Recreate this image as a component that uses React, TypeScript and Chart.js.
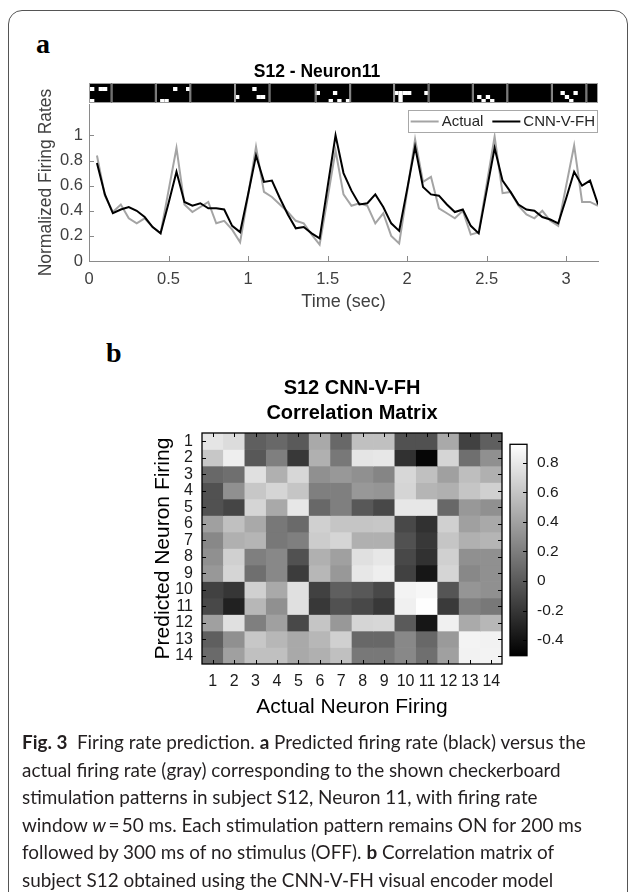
import React, { useEffect, useRef } from 'react';
import { Chart, registerables } from 'chart.js';

Chart.register(...registerables);

const SANS = "'Liberation Sans', Arial, Helvetica, sans-serif";

// ---------- Panel a : firing rates ----------
const TIME = [0.05, 0.1, 0.15, 0.2, 0.25, 0.3, 0.35, 0.4, 0.45, 0.5, 0.55, 0.6, 0.65, 0.7, 0.75, 0.8, 0.85, 0.9, 0.95, 1.0,
  1.05, 1.1, 1.15, 1.2, 1.25, 1.3, 1.35, 1.4, 1.45, 1.5, 1.55, 1.6, 1.65, 1.7, 1.75, 1.8, 1.85, 1.9, 1.95, 2.0,
  2.05, 2.1, 2.15, 2.2, 2.25, 2.3, 2.35, 2.4, 2.45, 2.5, 2.55, 2.6, 2.65, 2.7, 2.75, 2.8, 2.85, 2.9, 2.95, 3.0,
  3.05, 3.1, 3.15, 3.2];

const ACTUAL = [0.84, 0.52, 0.39, 0.45, 0.34, 0.30, 0.34, 0.27, 0.22, 0.56,
  0.90, 0.45, 0.39, 0.43, 0.47, 0.30, 0.32, 0.25, 0.15, 0.52,
  0.91, 0.55, 0.51, 0.45, 0.39, 0.32, 0.30, 0.21, 0.13, 0.50,
  0.88, 0.53, 0.44, 0.46, 0.44, 0.30, 0.38, 0.20, 0.14, 0.55,
  0.97, 0.63, 0.67, 0.42, 0.38, 0.34, 0.40, 0.21, 0.23, 0.61,
  0.99, 0.54, 0.55, 0.44, 0.37, 0.34, 0.40, 0.32, 0.28, 0.60,
  0.92, 0.47, 0.47, 0.44];

const PREDICTED = [0.78, 0.53, 0.38, 0.41, 0.43, 0.40, 0.35, 0.27, 0.22, 0.46,
  0.71, 0.47, 0.44, 0.46, 0.42, 0.42, 0.41, 0.28, 0.23, 0.53,
  0.84, 0.63, 0.64, 0.50, 0.37, 0.26, 0.27, 0.22, 0.18, 0.59,
  1.00, 0.70, 0.56, 0.45, 0.46, 0.53, 0.43, 0.30, 0.24, 0.57,
  0.91, 0.59, 0.53, 0.52, 0.45, 0.39, 0.41, 0.28, 0.22, 0.56,
  0.90, 0.64, 0.55, 0.45, 0.41, 0.40, 0.35, 0.33, 0.30, 0.50,
  0.71, 0.60, 0.64, 0.45];

const X_TICKS = [0, 0.5, 1, 1.5, 2, 2.5, 3];
const Y_TICKS = [0, 0.2, 0.4, 0.6, 0.8, 1];

// checkerboard stimulation strip (ON periods), white cells on an 8x5 grid
const STIM_ONSETS = [-0.075, 0.42, 0.918, 1.425, 1.918, 2.413, 2.91];
const STIM_DURATION = 0.217;
const STIM_COLS = 8;
const STIM_ROWS = 5;
const STIM_PATTERNS: number[][][] = [
  [[3, 1], [5, 1], [6, 1], [3, 4]],
  [[4, 1], [7, 1], [1, 4], [2, 4]],
  [[0, 3], [4, 1], [5, 3], [6, 3]],
  [[0, 2], [4, 2], [5, 4], [3, 4], [7, 4]],
  [[0, 2], [1, 2], [2, 2], [3, 2], [1, 3], [1, 4], [7, 2]],
  [[1, 3], [3, 3], [2, 4], [4, 4]],
  [[2, 2], [3, 3], [5, 2], [4, 4]],
];

// ---------- Panel b : correlation matrix ----------
const NEURON_IDS = [1, 2, 3, 4, 5, 6, 7, 8, 9, 10, 11, 12, 13, 14];
const CORR: number[][] = [
  [0.78, 0.73, 0.03, 0.08, 0.00, 0.44, 0.08, 0.57, 0.57, -0.05, -0.05, 0.44, -0.14, 0.03],
  [0.61, 0.83, -0.01, 0.21, -0.19, 0.48, 0.17, 0.78, 0.79, -0.23, -0.47, 0.69, 0.12, 0.30],
  [0.08, 0.12, 0.75, 0.48, 0.70, 0.30, 0.35, 0.30, 0.24, 0.70, 0.57, 0.39, 0.56, 0.48],
  [-0.05, 0.30, 0.61, 0.69, 0.60, 0.21, 0.21, 0.35, 0.33, 0.69, 0.51, 0.48, 0.60, 0.66],
  [-0.05, -0.12, 0.69, 0.44, 0.79, 0.08, 0.21, -0.01, -0.10, 0.79, 0.79, 0.08, 0.35, 0.30],
  [0.39, 0.57, 0.44, 0.17, 0.09, 0.66, 0.60, 0.60, 0.61, -0.10, -0.23, 0.66, 0.39, 0.44],
  [0.26, 0.48, 0.51, 0.17, 0.21, 0.64, 0.69, 0.48, 0.48, -0.05, -0.19, 0.60, 0.48, 0.51],
  [0.30, 0.66, 0.21, 0.26, -0.05, 0.48, 0.39, 0.75, 0.79, -0.10, -0.23, 0.66, 0.30, 0.30],
  [0.35, 0.69, 0.12, 0.26, -0.17, 0.52, 0.35, 0.79, 0.83, -0.14, -0.38, 0.69, 0.26, 0.30],
  [-0.14, -0.20, 0.66, 0.44, 0.75, -0.14, 0.03, -0.01, -0.10, 0.86, 0.88, -0.03, 0.33, 0.30],
  [-0.10, -0.32, 0.52, 0.30, 0.75, -0.19, -0.05, -0.10, -0.19, 0.84, 0.92, -0.18, 0.21, 0.17],
  [0.39, 0.75, 0.21, 0.39, -0.10, 0.60, 0.35, 0.69, 0.70, 0.00, -0.38, 0.84, 0.45, 0.52],
  [0.03, 0.30, 0.61, 0.52, 0.44, 0.52, 0.66, 0.08, 0.08, 0.26, 0.08, 0.36, 0.86, 0.85],
  [0.09, 0.39, 0.57, 0.57, 0.44, 0.48, 0.57, 0.17, 0.17, 0.26, 0.12, 0.39, 0.85, 0.86],
];
const CBAR_MIN = -0.505;
const CBAR_MAX = 0.925;
const CBAR_TICKS = [-0.4, -0.2, 0, 0.2, 0.4, 0.6, 0.8];

const fmt = (v: number) => String(Math.round(v * 10) / 10);
const grayOf = (v: number) => {
  const t = Math.max(0, Math.min(1, (v - CBAR_MIN) / (CBAR_MAX - CBAR_MIN)));
  const g = Math.round(t * 255);
  return `rgb(${g},${g},${g})`;
};

// ---------- plugins ----------
const stripPlugin = {
  id: 'stimStrip',
  afterDraw(chart: any) {
    const { ctx, chartArea: ca, scales } = chart;
    const x = scales.x;
    const h = 20;
    const top = ca.top - 21;
    const segs: { from: number; to: number; pattern: number[][] | null }[] = [];
    let prevEnd = x.min;
    STIM_ONSETS.forEach((on, i) => {
      if (on > prevEnd) segs.push({ from: prevEnd, to: on, pattern: null });
      segs.push({ from: on, to: on + STIM_DURATION, pattern: STIM_PATTERNS[i] });
      prevEnd = on + STIM_DURATION;
    });
    if (prevEnd < x.max) segs.push({ from: prevEnd, to: x.max, pattern: null });
    ctx.save();
    ctx.beginPath();
    ctx.rect(ca.left, top - 1, ca.right - ca.left, h + 2);
    ctx.clip();
    segs.forEach((seg) => {
      const x0 = x.getPixelForValue(seg.from);
      const x1 = x.getPixelForValue(seg.to);
      ctx.fillStyle = '#000';
      ctx.fillRect(x0, top, x1 - x0, h);
      if (seg.pattern) {
        const cw = (x1 - x0) / STIM_COLS;
        const chh = h / STIM_ROWS;
        ctx.fillStyle = '#fff';
        seg.pattern.forEach(([c, r]) => ctx.fillRect(x0 + c * cw, top + r * chh, cw, chh));
      }
      const l = Math.max(x0, ca.left);
      const r = Math.min(x1, ca.right);
      ctx.strokeStyle = '#9c9c9c';
      ctx.lineWidth = 1;
      ctx.strokeRect(l + 0.5, top + 0.5, r - l - 1, h - 1);
    });
    ctx.restore();
  },
};

const legendBoxPlugin = {
  id: 'legendBox',
  afterDraw(chart: any) {
    const { ctx, chartArea: ca } = chart;
    ctx.save();
    ctx.font = `15px ${SANS}`;
    const items = chart.data.datasets.map((d: any) => ({ label: d.label, color: d.borderColor }));
    const lineLen = 28, padL = 3, gapLT = 3, gapItem = 9, padR = 3;
    let width = padL + padR;
    items.forEach((it: any, i: number) => {
      width += lineLen + gapLT + ctx.measureText(it.label).width + (i < items.length - 1 ? gapItem : 0);
    });
    const h = 22;
    const right = ca.right;
    const left = right - width;
    const top = ca.top + 6;
    ctx.fillStyle = '#fff';
    ctx.fillRect(left, top, width, h);
    ctx.strokeStyle = '#a8a8a8';
    ctx.lineWidth = 1;
    ctx.strokeRect(Math.round(left) + 0.5, Math.round(top) + 0.5, Math.round(width) - 1, h);
    let xx = left + padL;
    const cy = top + h / 2 + 0.5;
    items.forEach((it: any) => {
      ctx.strokeStyle = it.color;
      ctx.lineWidth = 2;
      ctx.beginPath();
      ctx.moveTo(xx, cy);
      ctx.lineTo(xx + lineLen, cy);
      ctx.stroke();
      xx += lineLen + gapLT;
      ctx.fillStyle = '#262626';
      ctx.textBaseline = 'middle';
      ctx.fillText(it.label, xx, cy + 0.5);
      xx += ctx.measureText(it.label).width + gapItem;
    });
    ctx.restore();
  },
};

const lineTicksPlugin = {
  id: 'lineTicks',
  afterDraw(chart: any) {
    const { ctx, chartArea: ca, scales } = chart;
    ctx.save();
    ctx.strokeStyle = '#8a8a8a';
    ctx.lineWidth = 1;
    ctx.beginPath();
    X_TICKS.forEach((v) => {
      const px = Math.round(scales.x.getPixelForValue(v)) + 0.5;
      ctx.moveTo(px, ca.bottom);
      ctx.lineTo(px, ca.bottom - 5);
    });
    Y_TICKS.forEach((v) => {
      const py = Math.round(scales.y.getPixelForValue(v)) + 0.5;
      ctx.moveTo(ca.left, py);
      ctx.lineTo(ca.left + 5, py);
    });
    ctx.stroke();
    ctx.restore();
  },
};

const heatFramePlugin = {
  id: 'heatFrame',
  afterDraw(chart: any) {
    const { ctx, chartArea: ca, scales } = chart;
    ctx.save();
    ctx.strokeStyle = '#000';
    ctx.lineWidth = 1;
    ctx.beginPath();
    NEURON_IDS.forEach((id, i) => {
      const px = Math.round(scales.x.getPixelForValue(i)) + 0.5;
      ctx.moveTo(px, ca.top);
      ctx.lineTo(px, ca.top + 4);
      ctx.moveTo(px, ca.bottom);
      ctx.lineTo(px, ca.bottom - 4);
      const py = Math.round(scales.y.getPixelForValue(id)) + 0.5;
      ctx.moveTo(ca.left, py);
      ctx.lineTo(ca.left + 4, py);
      ctx.moveTo(ca.right, py);
      ctx.lineTo(ca.right - 4, py);
    });
    ctx.stroke();
    ctx.lineWidth = 1.3;
    ctx.strokeRect(ca.left, ca.top, ca.right - ca.left, ca.bottom - ca.top);
    ctx.restore();
  },
};

const cbarFramePlugin = {
  id: 'cbarFrame',
  afterDraw(chart: any) {
    const { ctx, chartArea: ca, scales } = chart;
    ctx.save();
    ctx.strokeStyle = '#000';
    ctx.lineWidth = 1;
    ctx.beginPath();
    CBAR_TICKS.forEach((v) => {
      const py = Math.round(scales.y.getPixelForValue(v)) + 0.5;
      ctx.moveTo(ca.right, py);
      ctx.lineTo(ca.right - 4, py);
    });
    ctx.stroke();
    ctx.lineWidth = 1.3;
    ctx.strokeRect(ca.left, ca.top, ca.right - ca.left, ca.bottom - ca.top);
    ctx.restore();
  },
};

// ---------- components ----------
function FiringRateChart() {
  const ref = useRef<HTMLCanvasElement>(null);
  useEffect(() => {
    const chart = new Chart(ref.current as HTMLCanvasElement, {
      type: 'line',
      data: {
        datasets: [
          {
            label: 'Actual',
            data: TIME.map((t, i) => ({ x: t, y: ACTUAL[i] })),
            borderColor: '#a4a4a4',
            borderWidth: 2,
            pointRadius: 0,
            tension: 0,
            order: 2,
          },
          {
            label: 'CNN-V-FH',
            data: TIME.map((t, i) => ({ x: t, y: PREDICTED[i] })),
            borderColor: '#000000',
            borderWidth: 2,
            pointRadius: 0,
            tension: 0,
            order: 1,
          },
        ],
      },
      options: {
        responsive: false,
        animation: false,
        events: [],
        layout: { padding: { left: 36, right: 32, top: 0, bottom: 17 } },
        plugins: {
          legend: { display: false },
          tooltip: { enabled: false },
          title: {
            display: true,
            text: 'S12 - Neuron11',
            color: '#000',
            font: { family: SANS, size: 17.5, weight: 'bold', lineHeight: 1.2 },
            padding: { top: 11.5, bottom: 21.5 },
          },
        },
        scales: {
          x: {
            type: 'linear',
            min: 0,
            max: 3.2,
            afterBuildTicks: (s: any) => { s.ticks = X_TICKS.map((v) => ({ value: v })); },
            afterFit: (s: any) => { s.height = 52; },
            grid: { display: false, drawTicks: false },
            border: { display: true, color: '#8a8a8a', width: 1 },
            ticks: {
              padding: 9,
              color: '#404040',
              font: { family: SANS, size: 16.5 },
              maxRotation: 0,
              autoSkip: false,
              callback: (v: any) => fmt(Number(v)),
            },
            title: {
              display: true,
              text: 'Time (sec)',
              color: '#404040',
              font: { family: SANS, size: 18, lineHeight: 1.2 },
              padding: 0,
            },
          },
          y: {
            type: 'linear',
            min: 0,
            max: 1.25,
            afterBuildTicks: (s: any) => { s.ticks = Y_TICKS.map((v) => ({ value: v })); },
            afterFit: (s: any) => { s.width = 53; },
            grid: { display: false, drawTicks: false },
            border: { display: true, color: '#8a8a8a', width: 1 },
            ticks: {
              padding: 6,
              color: '#404040',
              font: { family: SANS, size: 16.5 },
              callback: (v: any) => fmt(Number(v)),
            },
            title: {
              display: true,
              text: 'Normalized Firing Rates',
              color: '#404040',
              font: { family: SANS, size: 17.5, lineHeight: 1.2 },
              padding: 0,
            },
          },
        },
      } as any,
      plugins: [stripPlugin, lineTicksPlugin, legendBoxPlugin],
    });
    return () => chart.destroy();
  }, []);
  return <canvas ref={ref} width={630} height={280} style={{ position: 'absolute', left: 0, top: 50 }} />;
}

function CorrelationChart() {
  const ref = useRef<HTMLCanvasElement>(null);
  useEffect(() => {
    const chart = new Chart(ref.current as HTMLCanvasElement, {
      type: 'bar',
      data: {
        labels: NEURON_IDS.map(String),
        datasets: CORR.map((row, r) => ({
          label: 'row ' + NEURON_IDS[r],
          data: row.map(() => [NEURON_IDS[r] - 0.5, NEURON_IDS[r] + 0.5]),
          backgroundColor: row.map(grayOf),
          borderWidth: 0,
          grouped: false,
          barPercentage: 1,
          categoryPercentage: 1,
        })),
      },
      options: {
        responsive: false,
        animation: false,
        events: [],
        layout: { padding: { left: 20.4, right: 18, top: 0, bottom: 10.4 } },
        plugins: {
          legend: { display: false },
          tooltip: { enabled: false },
          title: {
            display: true,
            fullSize: false,
            text: ['S12 CNN-V-FH', 'Correlation Matrix'],
            color: '#000',
            font: { family: SANS, size: 20, weight: 'bold', lineHeight: 1.25 },
            padding: { top: 5.5, bottom: 7.5 },
          },
        },
        scales: {
          x: {
            type: 'category',
            offset: true,
            afterFit: (s: any) => { s.height = 55.6; },
            grid: { display: false, drawTicks: false },
            border: { display: false },
            ticks: {
              padding: 8,
              color: '#1a1a1a',
              font: { family: SANS, size: 16 },
              maxRotation: 0,
              autoSkip: false,
            },
            title: {
              display: true,
              text: 'Actual Neuron Firing',
              color: '#000',
              font: { family: SANS, size: 21, lineHeight: 1.2 },
              padding: 0,
            },
          },
          y: {
            type: 'linear',
            min: 0.5,
            max: 14.5,
            reverse: true,
            afterBuildTicks: (s: any) => { s.ticks = NEURON_IDS.map((v) => ({ value: v })); },
            afterFit: (s: any) => { s.width = 51.6; },
            grid: { display: false, drawTicks: false },
            border: { display: false },
            ticks: {
              padding: 9,
              color: '#1a1a1a',
              font: { family: SANS, size: 16 },
              autoSkip: false,
              callback: (v: any) => String(v),
            },
            title: {
              display: true,
              text: 'Predicted Neuron Firing',
              color: '#000',
              font: { family: SANS, size: 21, lineHeight: 1.2 },
              padding: 0,
            },
          },
        },
      } as any,
      plugins: [heatFramePlugin],
    });
    return () => chart.destroy();
  }, []);
  return <canvas ref={ref} width={390} height={360} style={{ position: 'absolute', left: 130, top: 370 }} />;
}

function ColorbarChart() {
  const ref = useRef<HTMLCanvasElement>(null);
  useEffect(() => {
    const chart = new Chart(ref.current as HTMLCanvasElement, {
      type: 'bar',
      data: {
        labels: ['scale'],
        datasets: [
          {
            label: 'colorbar',
            data: [[CBAR_MIN, CBAR_MAX]],
            backgroundColor: (c: any) => {
              const ca = c.chart.chartArea;
              if (!ca) return '#808080';
              const g = c.chart.ctx.createLinearGradient(0, ca.bottom, 0, ca.top);
              g.addColorStop(0, '#000000');
              g.addColorStop(1, '#ffffff');
              return g;
            },
            borderWidth: 0,
            barPercentage: 1,
            categoryPercentage: 1,
          },
        ],
      },
      options: {
        responsive: false,
        animation: false,
        events: [],
        layout: { padding: { left: 10, right: 0, top: 8, bottom: 11 } },
        plugins: { legend: { display: false }, tooltip: { enabled: false } },
        scales: {
          x: { type: 'category', display: false, offset: true },
          y: {
            type: 'linear',
            position: 'right',
            min: CBAR_MIN,
            max: CBAR_MAX,
            afterBuildTicks: (s: any) => { s.ticks = CBAR_TICKS.map((v) => ({ value: v })); },
            afterFit: (s: any) => { s.width = 83; },
            grid: { display: false, drawTicks: false },
            border: { display: false },
            ticks: {
              padding: 10,
              color: '#1a1a1a',
              font: { family: SANS, size: 15.5 },
              callback: (v: any) => fmt(Number(v)),
            },
          },
        },
      } as any,
      plugins: [cbarFramePlugin],
    });
    return () => chart.destroy();
  }, []);
  return <canvas ref={ref} width={110} height={250} style={{ position: 'absolute', left: 500, top: 425 }} />;
}

const CAPTION_FONT = "Lato, 'Open Sans', sans-serif";

function Caption() {
  const lines = [
    <><b>Fig. 3</b>{'\u2002'}Firing rate prediction. <b>a</b> Predicted firing rate (black) versus the</>,
    <>actual firing rate (gray) corresponding to the shown checkerboard</>,
    <>stimulation patterns in subject S12, Neuron 11, with firing rate</>,
    <>window <i>w</i>{'\u2009'}={'\u2009'}50 ms. Each stimulation pattern remains ON for 200 ms</>,
    <>followed by 300 ms of no stimulus (OFF). <b>b</b> Correlation matrix of</>,
    <>subject S12 obtained using the CNN-V-FH visual encoder model</>,
  ];
  return (
    <div style={{ position: 'absolute', left: 22, top: 728, fontFamily: CAPTION_FONT, fontSize: 18.9, color: '#231f20' }}>
      {lines.map((l, i) => (
        <div key={i} style={{ height: 27.5, lineHeight: '27.5px', whiteSpace: 'nowrap' }}>{l}</div>
      ))}
    </div>
  );
}

export default function App() {
  const letter: React.CSSProperties = {
    position: 'absolute',
    fontFamily: "'Liberation Serif', 'Times New Roman', serif",
    fontWeight: 'bold',
    fontSize: 28,
    lineHeight: '28px',
    color: '#000',
  };
  return (
    <div style={{ position: 'absolute', left: 0, top: 0, width: 630, height: 892, overflow: 'hidden', background: '#fff' }}>
      <div style={{ position: 'absolute', left: 8, top: 10, width: 620, height: 900, border: '1px solid #555', borderRadius: 14, boxSizing: 'border-box' }} />
      <div style={{ ...letter, left: 36, top: 30 }}>a</div>
      <div style={{ ...letter, left: 106, top: 339 }}>b</div>
      <FiringRateChart />
      <CorrelationChart />
      <ColorbarChart />
      <Caption />
    </div>
  );
}
